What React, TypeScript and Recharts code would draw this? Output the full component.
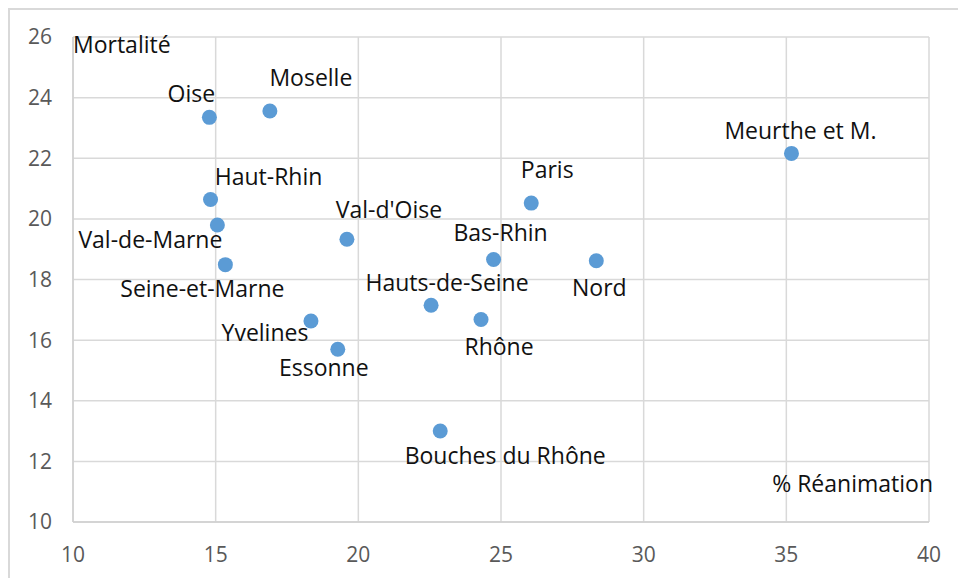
import React from 'react';
import { ScatterChart, Scatter, XAxis, YAxis, CartesianGrid, Label } from 'recharts';

// départements, % de patients en réanimation vs mortalité
const departements = [
  'Oise', 'Moselle', 'Meurthe et M.', 'Haut-Rhin', 'Paris', 'Val-de-Marne',
  "Val-d'Oise", 'Bas-Rhin', 'Nord', 'Seine-et-Marne', 'Hauts-de-Seine',
  'Rhône', 'Yvelines', 'Essonne', 'Bouches du Rhône',
];
const reanimation = [
  14.78, 16.9, 35.18, 14.82, 26.06, 15.06,
  19.6, 24.74, 28.34, 15.34, 22.55,
  24.3, 18.34, 19.28, 22.87,
];
const mortalite = [
  23.35, 23.56, 22.16, 20.64, 20.52, 19.8,
  19.33, 18.66, 18.62, 18.49, 17.15,
  16.68, 16.63, 15.7, 13.0,
];
const xTicks = [10, 15, 20, 25, 30, 35, 40];
const yTicks = [10, 12, 14, 16, 18, 20, 22, 24, 26];

// where each data label sits relative to its point (text centre, px)
const labelOffsets: [number, number][] = [
  [-18, -24], [41, -33], [9, -23], [58, -23], [16, -33], [-67, 15],
  [42, -29], [7, -27], [3, 27], [-23, 24], [16, -23],
  [18, 27], [-46, 12], [-14, 19], [65, 25],
];

const points = departements.map((name, i) => ({ name, x: reanimation[i], y: mortalite[i] }));

const FONT = '"Open Sans", sans-serif';
const LABEL_SIZE = 23;
const TEXT = '#111';

const renderPoint = (props: any) => {
  const { cx, cy, payload } = props;
  const i = departements.indexOf(payload.name);
  const [dx, dy] = labelOffsets[i] || [0, -20];
  return (
    <g>
      <circle cx={cx} cy={cy} r={7.5} fill="#5b9bd5" />
      <text
        x={cx + dx}
        y={cy + dy + LABEL_SIZE * 0.36}
        textAnchor="middle"
        fontSize={LABEL_SIZE}
        fontFamily={FONT}
        fill={TEXT}
      >
        {payload.name}
      </text>
    </g>
  );
};

export default function App() {
  return (
    <div style={{ position: 'absolute', left: 0, top: 0, width: 958, height: 578, overflow: 'hidden', background: '#fff', fontFamily: FONT }}>
      <div style={{ position: 'absolute', left: 8, top: 8, width: 1000, height: 1000, borderLeft: '2px solid #d9d9d9', borderTop: '2px solid #d9d9d9' }} />
      <div style={{ position: 'absolute', left: 0, top: 0 }}>
        <ScatterChart width={958} height={578} margin={{ top: 37, right: 29, bottom: 26, left: 0 }}>
          <CartesianGrid stroke="#d9d9d9" strokeWidth={1.5} />
          <XAxis
            type="number"
            dataKey="x"
            domain={[10, 40]}
            ticks={xTicks}
            interval={0}
            height={30}
            tickLine={false}
            tickSize={0}
            tickMargin={25}
            axisLine={{ stroke: '#cfcfcf', strokeWidth: 1.5 }}
            tick={{ fill: '#595959', fontSize: 21, fontFamily: FONT }}
          >
            <Label
              content={({ viewBox }: any) => (
                <text
                  x={viewBox.x + viewBox.width + 4}
                  y={viewBox.y - 30}
                  textAnchor="end"
                  fontSize={LABEL_SIZE}
                  fontFamily={FONT}
                  fill={TEXT}
                >
                  % Réanimation
                </text>
              )}
            />
          </XAxis>
          <YAxis
            type="number"
            dataKey="y"
            domain={[10, 26]}
            ticks={yTicks}
            interval={0}
            width={73}
            tickLine={false}
            tickSize={0}
            tickMargin={21}
            axisLine={{ stroke: '#cfcfcf', strokeWidth: 1.5 }}
            tick={{ fill: '#595959', fontSize: 21, fontFamily: FONT }}
          >
            <Label
              content={({ viewBox }: any) => (
                <text
                  x={viewBox.x + viewBox.width}
                  y={viewBox.y + 16}
                  textAnchor="start"
                  fontSize={LABEL_SIZE}
                  fontFamily={FONT}
                  fill={TEXT}
                >
                  Mortalité
                </text>
              )}
            />
          </YAxis>
          <Scatter data={points} shape={renderPoint} isAnimationActive={false} />
        </ScatterChart>
      </div>
    </div>
  );
}
